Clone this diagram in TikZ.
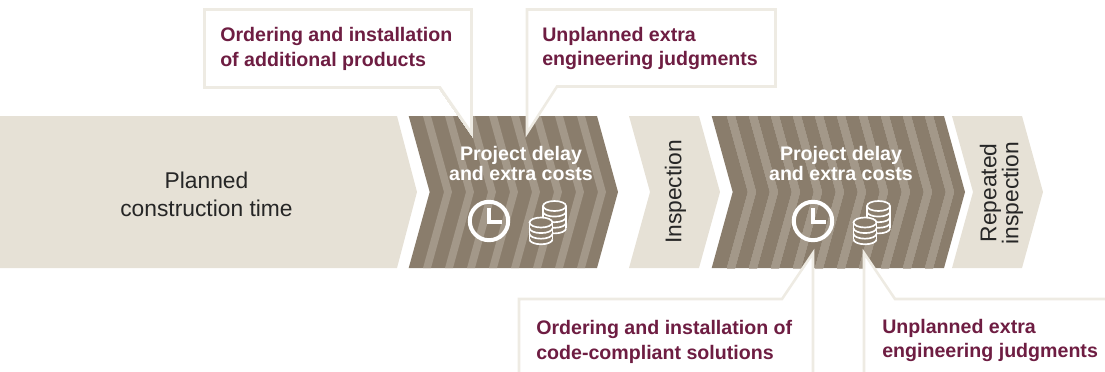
\documentclass[tikz,border=0pt]{standalone}
\usepackage{fontspec}
\setmainfont{Liberation Sans}
\definecolor{sandbg}{HTML}{E6E1D6}
\definecolor{brownbg}{HTML}{8A7D6C}
\definecolor{brownlt}{HTML}{A39889}
\definecolor{calloutln}{HTML}{EEEBE3}
\definecolor{calloutfg}{HTML}{6E1D42}
\tikzset{
	callout/.style={draw=calloutln,line width=1.9pt,fill=white,line join=miter},
	callouttext/.style={anchor=west,align=left,inner sep=0pt,text=calloutfg,font=\fontsize{14.7}{18.7}\bfseries\selectfont},
	chevtext/.style={align=center,inner sep=0pt,text=white,font=\fontsize{14.7}{14.4}\bfseries\selectfont},
	plaintext/.style={align=center,inner sep=0pt,text=black!85,font=\fontsize{17.1}{21}\selectfont},
	icon/.style={draw=white,line width=3pt},
}
% #1 left, #2 top right
\newcommand{\chevron}[3]{\fill[#3] (#1,116)--(#2,116)--(#2+21,192)--(#2,268)--(#1,268)--(#1+21,192)--cycle;}
% #1 x centre, #2 y of top, #3 tiers
\newcommand{\coinstack}[3]{
	\fill[brownbg] (#1-11.5,#2)--(#1-11.5,#2+#3*5.6)arc(180:0:11.5 and 5)--(#1+11.5,#2)arc(0:-180:11.5 and 5)--cycle;
	\draw[white,line width=1.25pt] (#1,#2)ellipse(11.5 and 5);
	\draw[white,line width=1.25pt] (#1-11.5,#2)--(#1-11.5,#2+#3*5.6)  (#1+11.5,#2)--(#1+11.5,#2+#3*5.6);
	\foreach \k in {1,...,#3}
		\draw[white,line width=1.25pt] (#1-11.5,#2+\k*5.6)arc(180:0:11.5 and 5);
}
\begin{document}
\begin{tikzpicture}[x=0.75pt,y=-0.75pt]
	\useasboundingbox (0,0)rectangle(1105,371);
	% sand blocks
	\fill[sandbg] (0,116)--(397,116)--(417,192)--(397,268)--(0,268)--cycle;
	\chevron{629}{699}{sandbg}
	\chevron{952}{1022}{sandbg}
	% brown blocks
	\chevron{408.7}{597}{brownbg}
	\chevron{711.7}{944}{brownbg}
	\foreach \x in {423,445,...,577}
		\chevron{\x}{\x+8}{brownlt}
	\foreach \x in {727,749,...,925}
		\chevron{\x}{\x+8}{brownlt}
	% callouts
	\draw[callout] (440,87.5)--(204.5,87.5)--(204.5,9.5)--(471.5,9.5)--(471.5,133)--cycle;
	\draw[callout] (557,86.5)--(775.5,86.5)--(775.5,9.5)--(527,9.5)--(527,133)--cycle;
	\fill[white] (519,299)rectangle(813,375);
	\draw[callout] (519,375)--(519,299)--(782,299)--(813,253)--(813,375);
	\draw[callout] (864,375)--(864,253)--(895,299)--(1108,299);
	% texts
	\node[callouttext] (order1) at (220,48.5) {Ordering and installation\\of additional products};
	\node[callouttext] (extra1) at (542,48.5) {Unplanned extra\\engineering judgments};
	\node[callouttext] (order2) at (536,341.5) {Ordering and installation of\\code-compliant solutions};
	\node[callouttext] (extra2) at (882,340.5) {Unplanned extra\\engineering judgments};
	\node[plaintext] (planned) at (206.5,194) {Planned\\construction time};
	\node[plaintext,rotate=90] (insp) at (675.5,192) {Inspection};
	\node[plaintext,rotate=90] (reinsp) at (1001.5,193) {Repeated\\[-4.5pt]inspection};
	\node[chevtext] (delay1) at (521,163.5) {Project delay\\and extra costs};
	\node[chevtext] (delay2) at (841,163.5) {Project delay\\and extra costs};
	% icons
	\foreach \d in {0,324}{
		\draw[icon] (489+\d,221)circle(19.2);
		\draw[icon,line width=2.4pt] (489+\d,208)--(489+\d,222)--(502+\d,222);
		\coinstack{554.5+\d}{206}{4}
		\coinstack{541+\d}{222.5}{3}
	}
\end{tikzpicture}
\end{document}
